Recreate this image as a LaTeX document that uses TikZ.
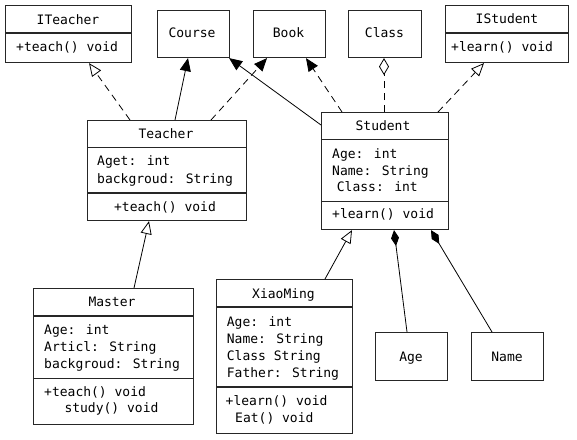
\documentclass[tikz,border=0pt]{standalone}
\usepackage{fontspec}
\newfontfamily\umlf{DejaVu Sans Mono}
\usetikzlibrary{arrows.meta,calc}
\begin{document}
\begin{tikzpicture}[x=1pt,y=-1pt,
  umlbox/.style={draw=black!85,line width=1.1pt,rectangle,inner sep=0pt,anchor=north west},
  divline/.style={draw=black!85,line width=1.1pt},
  tx/.style={font=\umlf\fontsize{13}{16}\selectfont,inner sep=0pt},
  txl/.style={tx,anchor=base west},
  txc/.style={tx,anchor=base},
  conn/.style={line width=0.8pt,black},
  dsh/.style={conn,dash pattern=on 7pt off 5pt},
  realize/.style={-{Triangle[open,length=13pt,width=11pt,fill=white]}},
  assoc/.style={-{Triangle[length=13pt,width=11pt]}},
  aggr/.style={-{Diamond[open,length=17pt,width=10pt,fill=white]}},
  compo/.style={-{Diamond[length=16pt,width=8pt]}}]
\useasboundingbox[fill=white] (0,0) rectangle (577,439);

% boxes
\node[umlbox,minimum width=126pt,minimum height=57pt] (iteacher) at (5,5) {};
\node[umlbox,minimum width=72pt,minimum height=47pt] (course) at (157,10) {};
\node[umlbox,minimum width=72pt,minimum height=47pt] (book) at (253,10) {};
\node[umlbox,minimum width=73pt,minimum height=47pt] (class) at (348,10) {};
\node[umlbox,minimum width=123pt,minimum height=57pt] (istudent) at (445,5) {};
\node[umlbox,minimum width=159pt,minimum height=100pt] (teacher) at (87,120) {};
\node[umlbox,minimum width=127pt,minimum height=117pt] (student) at (321,112) {};
\node[umlbox,minimum width=160pt,minimum height=136pt] (master) at (33,288) {};
\node[umlbox,minimum width=136pt,minimum height=154pt] (xiaoming) at (216,279) {};
\node[umlbox,minimum width=72pt,minimum height=48pt] (age) at (375,332) {};
\node[umlbox,minimum width=72pt,minimum height=48pt] (name) at (471,332) {};

% dividers
\draw[divline] (iteacher.west |- 0,33) -- (iteacher.east |- 0,33);
\draw[divline] (istudent.west |- 0,33) -- (istudent.east |- 0,33);
\draw[divline] (teacher.west |- 0,147.5) -- (teacher.east |- 0,147.5);
\draw[divline] (teacher.west |- 0,193) -- (teacher.east |- 0,193);
\draw[divline] (student.west |- 0,139.5) -- (student.east |- 0,139.5);
\draw[divline] (student.west |- 0,201.5) -- (student.east |- 0,201.5);
\draw[divline] (master.west |- 0,316) -- (master.east |- 0,316);
\draw[divline] (master.west |- 0,378.5) -- (master.east |- 0,378.5);
\draw[divline] (xiaoming.west |- 0,307) -- (xiaoming.east |- 0,307);
\draw[divline] (xiaoming.west |- 0,387) -- (xiaoming.east |- 0,387);

% texts
\node[txc] (t-it) at (68,24) {ITeacher};
\node[txl] (t-it1) at (16,51.7) {+teach() void};
\node[txc] (t-co) at (192,37.5) {Course};
\node[txc] (t-bo) at (288.5,37.5) {Book};
\node[txc] (t-cl) at (384.5,37.5) {Class};
\node[txc] (t-is) at (507,23.5) {IStudent};
\node[txl] (t-is1) at (451,51.7) {+learn() void};

\node[txc] (t-te) at (166,138) {Teacher};
\node[txl] (t-te1) at (97,165) {Aget: int};
\node[txl] (t-te2) at (97,183.3) {backgroud: String};
\node[txc] (t-te3) at (165,211.7) {+teach() void};

\node[txc] (t-st) at (383,130) {Student};
\node[txl] (t-st1) at (332,158.3) {Age: int};
\node[txl] (t-st2) at (332,175.7) {Name: String};
\node[txl] (t-st3) at (336.7,191) {Class: int};
\node[txl] (t-st4) at (332,218.3) {+learn() void};

\node[txc] (t-ma) at (112,306) {Master};
\node[txl] (t-ma1) at (44,334.3) {Age: int};
\node[txl] (t-ma2) at (44,351.7) {Articl: String};
\node[txl] (t-ma3) at (44,368.7) {backgroud: String};
\node[txl] (t-ma4) at (44,396) {+teach() void};
\node[txl] (t-ma5) at (64.3,412.7) {study() void};

\node[txc] (t-xm) at (283.5,298.3) {XiaoMing};
\node[txl] (t-xm1) at (226.7,326) {Age: int};
\node[txl] (t-xm2) at (226.7,343.3) {Name: String};
\node[txl] (t-xm3) at (226.7,360.3) {Class String};
\node[txl] (t-xm4) at (226.7,377.3) {Father: String};
\node[txl] (t-xm5) at (225.5,405.7) {+learn() void};
\node[txl] (t-xm6) at (235,422.3) {Eat() void};

\node[txc] (t-ag) at (411,361) {Age};
\node[txc] (t-na) at (507,361) {Name};

% connectors
\draw[dsh,realize] ($(teacher.north west)+(43,0)$) -- ($(iteacher.south west)+(84,0)$);
\draw[conn,assoc] ($(teacher.north west)+(88,0)$) -- ($(course.south west)+(31,0)$);
\draw[dsh,assoc] ($(teacher.north west)+(124,0)$) -- ($(book.south west)+(14,0)$);
\draw[conn,assoc] ($(student.north west)+(0,13)$) -- ($(course.south east)+(-1,0)$);
\draw[dsh,assoc] ($(student.north west)+(21,0)$) -- ($(book.south west)+(53,0)$);
\draw[dsh,aggr] ($(student.north west)+(63,0)$) -- ($(class.south west)+(36,0)$);
\draw[dsh,realize] ($(student.north west)+(117,0)$) -- ($(istudent.south west)+(39,0)$);
\draw[conn,realize] ($(master.north west)+(101,0)$) -- ($(teacher.south west)+(62,0)$);
\draw[conn,realize] ($(xiaoming.north west)+(109,0)$) -- ($(student.south west)+(31,0)$);
\draw[conn,compo] ($(age.north west)+(32,0)$) -- ($(student.south west)+(73,0)$);
\draw[conn,compo] ($(name.north west)+(21,0)$) -- ($(student.south west)+(110,0)$);
\end{tikzpicture}
\end{document}
